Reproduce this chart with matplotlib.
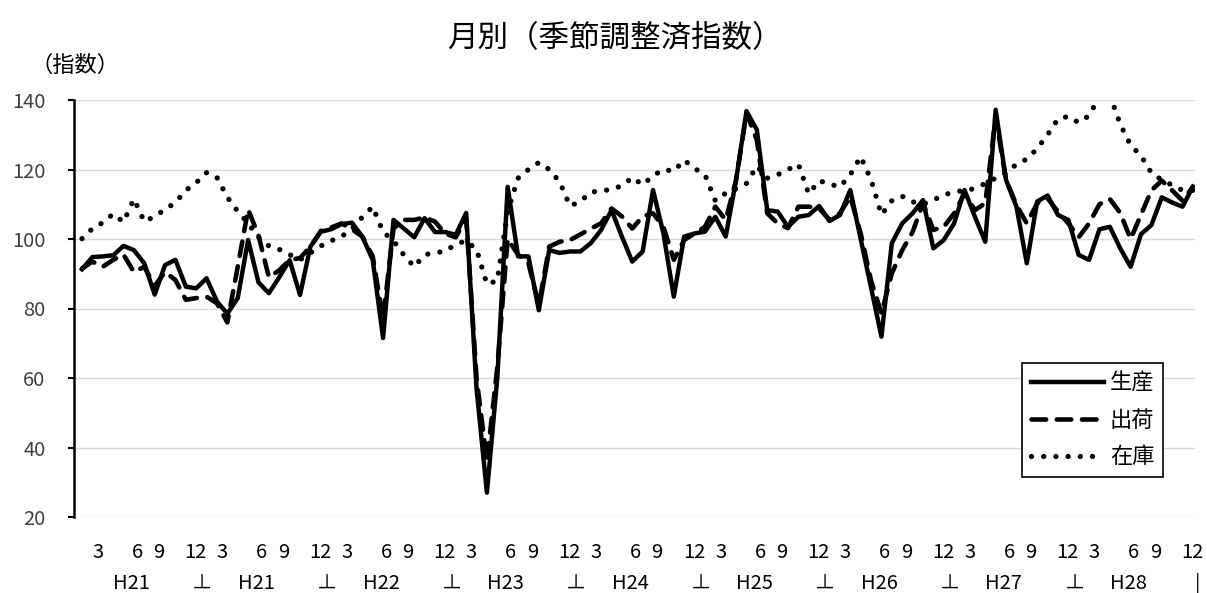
import numpy as np
import matplotlib
matplotlib.use('Agg')
import matplotlib.pyplot as plt

plt.rcParams['font.family'] = ['Noto Sans CJK JP', 'DejaVu Sans']
plt.rcParams['axes.unicode_minus'] = False

# 月別データ (H20.1 - H28.12, 108か月)
production = [
    91.3, 94.8, 95.0, 95.3, 98.0, 96.8, 93.0, 84.0, 92.5, 94.0, 86.3, 85.8,
    88.7, 82.0, 78.5, 83.0, 99.7, 87.5, 84.4, 89.0, 93.9, 83.9, 97.8, 102.1,
    102.8, 104.3, 104.7, 100.7, 94.0, 71.5, 105.5, 103.0, 100.5, 106.0, 102.0, 102.0,
    101.2, 107.5, 57.0, 27.0, 60.0, 115.0, 95.0, 95.0, 79.5, 96.8, 96.0, 96.4,
    96.4, 98.8, 102.6, 108.3, 100.7, 93.5, 96.4, 114.1, 101.6, 83.4, 100.7, 101.6,
    102.1, 106.4, 100.7, 117.0, 136.8, 131.4, 108.3, 107.9, 103.5, 106.4, 106.9, 109.5,
    105.2, 106.9, 114.1, 100.0, 86.0, 71.9, 98.8, 104.5, 107.4, 111.2, 97.3, 99.7,
    104.5, 114.1, 106.4, 99.2, 137.2, 117.0, 109.3, 93.0, 110.8, 112.5, 106.9, 105.5,
    95.4, 94.0, 102.8, 103.5, 97.3, 92.0, 101.4, 104.0, 112.0, 110.5, 109.3, 115.1,
]
shipments = [
    91.5, 93.5, 92.0, 94.0, 95.5, 90.5, 92.0, 86.5, 90.5, 88.2, 82.5, 83.0,
    83.4, 81.5, 76.0, 92.0, 108.5, 101.0, 89.0, 91.0, 94.0, 94.5, 97.8, 102.3,
    103.3, 104.5, 102.8, 100.7, 95.0, 77.0, 103.0, 105.5, 105.5, 106.2, 105.0, 101.5,
    100.5, 106.0, 60.0, 36.0, 63.0, 100.0, 95.5, 93.0, 81.0, 97.8, 99.2, 99.7,
    101.3, 103.0, 104.5, 108.8, 106.5, 103.0, 106.5, 107.4, 103.5, 94.0, 99.7, 101.6,
    103.5, 109.3, 105.5, 117.0, 136.2, 128.5, 107.4, 104.5, 103.1, 109.3, 109.3, 108.8,
    105.5, 107.4, 112.2, 101.6, 88.0, 78.6, 90.1, 96.8, 102.0, 110.3, 102.6, 103.5,
    107.4, 113.1, 108.3, 110.3, 135.2, 117.0, 109.8, 104.5, 110.3, 111.7, 107.9, 104.5,
    100.5, 104.5, 110.0, 111.5, 107.5, 100.0, 107.0, 114.0, 116.8, 114.0, 111.0, 115.0,
]
inventory = [
    100.1, 103.0, 104.7, 107.2, 104.9, 111.5, 105.0, 106.5, 108.5, 110.5, 114.0, 116.2,
    119.1, 117.7, 112.0, 108.0, 104.5, 100.5, 98.0, 97.0, 95.5, 94.0, 96.0, 98.0,
    99.5, 100.7, 103.0, 106.3, 109.3, 102.0, 99.5, 95.4, 92.0, 95.5, 96.0, 96.5,
    98.5, 99.5, 97.0, 87.0, 88.0, 108.0, 117.5, 120.0, 122.0, 120.0, 116.5, 109.5,
    110.8, 113.5, 113.8, 114.3, 115.3, 117.7, 115.6, 118.2, 120.0, 119.5, 122.7, 120.3,
    118.5, 111.0, 113.2, 114.5, 116.0, 121.0, 117.5, 118.5, 120.0, 121.5, 113.0, 116.8,
    115.8, 115.0, 118.5, 123.7, 117.0, 107.0, 111.0, 112.3, 110.7, 110.0, 111.2, 112.7,
    113.5, 114.0, 114.5, 116.0, 117.5, 119.0, 121.5, 123.0, 126.0, 130.0, 134.5, 135.3,
    133.5, 135.5, 141.0, 141.5, 133.0, 127.0, 124.0, 119.0, 117.0, 115.5, 114.0, 114.0,
]
month_labels = ['3', '6', '9', '12']
month_offsets = [1.5, 5.3, 7.4, 10.95]
year_labels = ['H21', 'H21', 'H22', 'H23', 'H24', 'H25', 'H26', 'H27', 'H28']

W, H = 1207, 593
fig = plt.figure(figsize=(W / 100, H / 100), dpi=100)
ax = fig.add_axes([74 / W, 1 - 517 / H, (1195 - 74) / W, 417 / H])

x = np.arange(len(production))
ax.plot(x, production, color='black', lw=3.2, label='生産', solid_joinstyle='round')
ax.plot(x, shipments, color='black', lw=3.3, label='出荷',
        linestyle=(0, (3.2, 2.3)), dash_capstyle='round', dash_joinstyle='round')
ax.plot(x, inventory, color='black', lw=3.8, label='在庫',
        linestyle=(0, (0.01, 2.3)), dash_capstyle='round')

ax.set_xlim(-0.77, 107.2)
ax.set_ylim(20, 140)
ax.set_yticks(range(20, 141, 20))
ax.set_xticks([])
ax.grid(axis='y', color='#d9d9d9', lw=1.0)
ax.set_axisbelow(True)
for s in ['top', 'right', 'bottom']:
    ax.spines[s].set_visible(False)
ax.spines['left'].set_linewidth(1.8)
ax.tick_params(axis='y', length=4.5, width=1.5, pad=16, labelsize=14.5,
               labelcolor='#404040')

# 横軸ラベル
tr = ax.get_xaxis_transform()
for k, yl in enumerate(year_labels):
    for off, lab in zip(month_offsets, month_labels):
        ax.text(12 * k + off, -0.085, lab, transform=tr, ha='center', va='center',
                fontsize=14.5, clip_on=False)
    ax.text(12 * k + 4.8, -0.160, yl, transform=tr, ha='center', va='center',
            fontsize=14.5, clip_on=False)
    sep = '⊥' if k < len(year_labels) - 1 else '|'
    pos = 12 * k + 11.6 if k < len(year_labels) - 1 else 107.5
    ax.text(pos, -0.160, sep, transform=tr, ha='center', va='center',
            fontsize=14.5, clip_on=False)

fig.text(615 / W, 1 - 39 / H, '月別（季節調整済指数）', ha='center', va='center', fontsize=22)
fig.text(75 / W, 1 - 65 / H, '（指数）', ha='center', va='center', fontsize=16)

leg = ax.legend(loc='upper left', bbox_to_anchor=(0.8457, 0.3693), borderaxespad=0,
                fontsize=16, handlelength=3.3, handletextpad=0.25, labelspacing=0.62,
                borderpad=0.4, fancybox=False, edgecolor='black', framealpha=1)
leg.get_frame().set_linewidth(1.2)

plt.savefig('out.png', dpi=100)
plt.close()
